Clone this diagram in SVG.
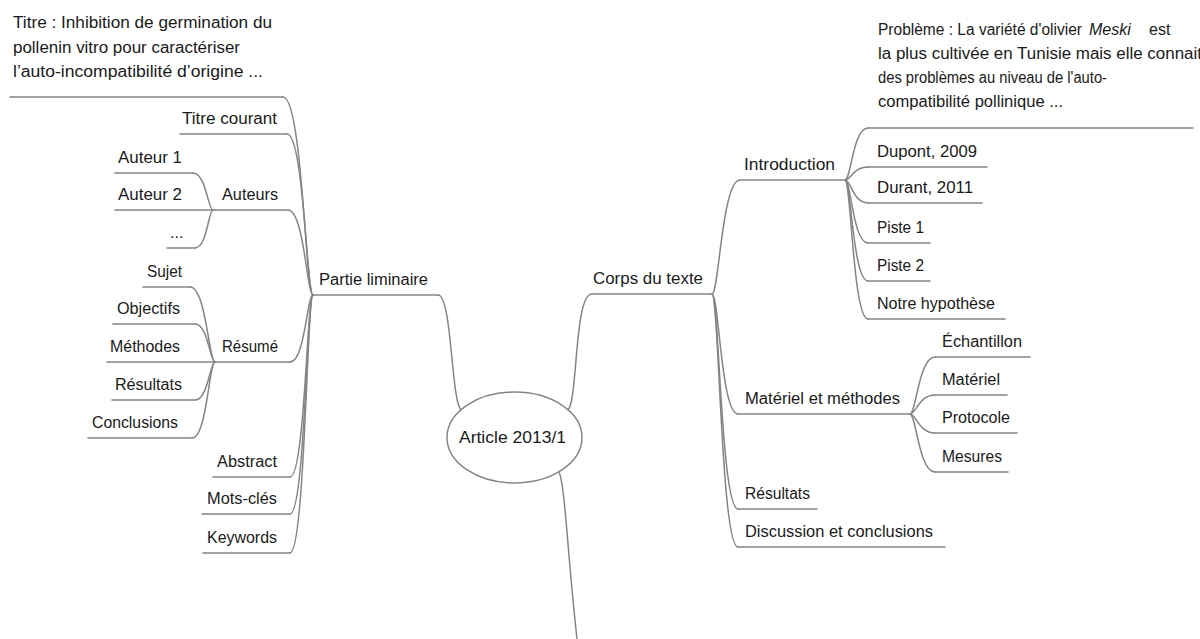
<svg xmlns="http://www.w3.org/2000/svg" width="1200" height="639" viewBox="0 0 1200 639">
<style>
.t{font-family:"Liberation Sans",Arial,sans-serif;font-size:16px;fill:#1a1a1a}
.u{stroke:#858585;stroke-width:1.6;fill:none;stroke-linecap:round}
.c{stroke:#858585;stroke-width:1.5;fill:none;stroke-linecap:round}
</style>
<rect width="1200" height="639" fill="#fff"/>
<g id="connectors">
<path class="c" d="M283 97 C302.5 97 305.5 295 313 295"/>
<path class="c" d="M287 134 C304 134 306.5 295 313 295"/>
<path class="c" d="M288 210 C304 210 307 295 313 295"/>
<path class="c" d="M290 362 C305 362 307 295 313 295"/>
<path class="c" d="M290 477 C305 477 307 295 313 295"/>
<path class="c" d="M290 514 C305 514 307 295 313 295"/>
<path class="c" d="M290 553 C305 553 307 295 313 295"/>
<path class="c" d="M193 173 C206 173 208 210 213 210"/>
<path class="c" d="M195 248 C207 248 208.5 210 213 210"/>
<path class="c" d="M190 287 C206 287 209 362 215 362"/>
<path class="c" d="M195 324 C208 324 210 362 215 362"/>
<path class="c" d="M195 400 C208 400 210 362 215 362"/>
<path class="c" d="M192 438 C207 438 209 362 215 362"/>
<path class="c" d="M438 295 C452 295 451 400 461 410"/>
<path class="c" d="M568 410 C578 400 574 294 592 294"/>
<path class="c" d="M559 472 C565 484 568 560 577 639"/>
<path class="c" d="M712 294 C719 294 722 180 740 180"/>
<path class="c" d="M712 294 C719 294 721 414 738 414"/>
<path class="c" d="M712 294 C719 294 721 509 738 509"/>
<path class="c" d="M712 294 C719 294 721 547 738 547"/>
<path class="c" d="M845 180 C851 180 853 128 868 128"/>
<path class="c" d="M845 180 C851 180 853 167 868 167"/>
<path class="c" d="M845 180 C851 180 853 203 868 203"/>
<path class="c" d="M845 180 C851 180 853 243 868 243"/>
<path class="c" d="M845 180 C851 180 853 281 868 281"/>
<path class="c" d="M845 180 C851 180 853 319 868 319"/>
<path class="c" d="M910 414 C916 414 919 357 935 357"/>
<path class="c" d="M910 414 C916 414 919 395 935 395"/>
<path class="c" d="M910 414 C916 414 919 433 935 433"/>
<path class="c" d="M910 414 C916 414 919 472 935 472"/>
</g>
<g id="center">
<ellipse cx="514.5" cy="437.5" rx="67.5" ry="45.5" fill="#fff" stroke="#858585" stroke-width="1.5"/>
<text class="t" x="459" y="443" textLength="107" lengthAdjust="spacingAndGlyphs">Article 2013/1</text>
</g>
<g id="partie-liminaire">
<line class="u" x1="313" y1="295" x2="438" y2="295"/>
<text class="t" x="319" y="285" textLength="109" lengthAdjust="spacingAndGlyphs">Partie liminaire</text>
</g>
<g id="titre">
<line class="u" x1="10" y1="97" x2="283" y2="97"/>
<text class="t"><tspan x="13" y="28" textLength="259" lengthAdjust="spacingAndGlyphs">Titre : Inhibition de germination du</tspan><tspan x="13" y="52.5" textLength="227" lengthAdjust="spacingAndGlyphs">pollenin vitro pour caractériser</tspan><tspan x="13" y="77" textLength="250" lengthAdjust="spacingAndGlyphs">l’auto-incompatibilité d’origine ...</tspan></text>
</g>
<g id="titre-courant">
<line class="u" x1="180" y1="134" x2="287" y2="134"/>
<text class="t" x="182" y="124" textLength="95" lengthAdjust="spacingAndGlyphs">Titre courant</text>
</g>
<g id="auteurs">
<line class="u" x1="213" y1="210" x2="288" y2="210"/>
<text class="t" x="222" y="200" textLength="56" lengthAdjust="spacingAndGlyphs">Auteurs</text>
</g>
<g id="auteur-1">
<line class="u" x1="115" y1="173" x2="193" y2="173"/>
<text class="t" x="118" y="163" textLength="64" lengthAdjust="spacingAndGlyphs">Auteur 1</text>
</g>
<g id="auteur-2">
<line class="u" x1="115" y1="210" x2="213" y2="210"/>
<text class="t" x="118" y="200" textLength="64" lengthAdjust="spacingAndGlyphs">Auteur 2</text>
</g>
<g id="auteur-etc">
<line class="u" x1="167" y1="248" x2="195" y2="248"/>
<text class="t" x="170" y="238">...</text>
</g>
<g id="resume">
<line class="u" x1="215" y1="362" x2="290" y2="362"/>
<text class="t" x="222" y="352" textLength="56" lengthAdjust="spacingAndGlyphs">Résumé</text>
</g>
<g id="sujet">
<line class="u" x1="143" y1="287" x2="190" y2="287"/>
<text class="t" x="147" y="277" textLength="35" lengthAdjust="spacingAndGlyphs">Sujet</text>
</g>
<g id="objectifs">
<line class="u" x1="113" y1="324" x2="195" y2="324"/>
<text class="t" x="117" y="314" textLength="63" lengthAdjust="spacingAndGlyphs">Objectifs</text>
</g>
<g id="methodes">
<line class="u" x1="107" y1="362" x2="215" y2="362"/>
<text class="t" x="110" y="352" textLength="70" lengthAdjust="spacingAndGlyphs">Méthodes</text>
</g>
<g id="resultats-resume">
<line class="u" x1="112" y1="400" x2="195" y2="400"/>
<text class="t" x="115" y="390" textLength="67" lengthAdjust="spacingAndGlyphs">Résultats</text>
</g>
<g id="conclusions">
<line class="u" x1="88" y1="438" x2="192" y2="438"/>
<text class="t" x="92" y="428" textLength="86" lengthAdjust="spacingAndGlyphs">Conclusions</text>
</g>
<g id="abstract">
<line class="u" x1="213" y1="477" x2="290" y2="477"/>
<text class="t" x="217" y="467" textLength="60" lengthAdjust="spacingAndGlyphs">Abstract</text>
</g>
<g id="mots-cles">
<line class="u" x1="202" y1="514" x2="290" y2="514"/>
<text class="t" x="207" y="504" textLength="70" lengthAdjust="spacingAndGlyphs">Mots-clés</text>
</g>
<g id="keywords">
<line class="u" x1="203" y1="553" x2="290" y2="553"/>
<text class="t" x="207" y="543" textLength="70" lengthAdjust="spacingAndGlyphs">Keywords</text>
</g>
<g id="corps">
<line class="u" x1="592" y1="294" x2="712" y2="294"/>
<text class="t" x="593" y="284" textLength="110" lengthAdjust="spacingAndGlyphs">Corps du texte</text>
</g>
<g id="introduction">
<line class="u" x1="740" y1="180" x2="845" y2="180"/>
<text class="t" x="744" y="170" textLength="91" lengthAdjust="spacingAndGlyphs">Introduction</text>
</g>
<g id="probleme">
<line class="u" x1="868" y1="128" x2="1193" y2="128"/>
<text class="t" y="35"><tspan x="878" textLength="204" lengthAdjust="spacingAndGlyphs">Problème : La variété d'olivier</tspan> <tspan x="1089" font-style="italic">Meski</tspan> <tspan x="1149">est</tspan></text>
<text class="t"><tspan x="878" y="59" textLength="324" lengthAdjust="spacingAndGlyphs">la plus cultivée en Tunisie mais elle connait</tspan><tspan x="878" y="83" textLength="229" lengthAdjust="spacingAndGlyphs">des problèmes au niveau de l'auto-</tspan><tspan x="878" y="107" textLength="185" lengthAdjust="spacingAndGlyphs">compatibilité pollinique ...</tspan></text>
</g>
<g id="dupont">
<line class="u" x1="868" y1="167" x2="987" y2="167"/>
<text class="t" x="877" y="157" textLength="100" lengthAdjust="spacingAndGlyphs">Dupont, 2009</text>
</g>
<g id="durant">
<line class="u" x1="868" y1="203" x2="982" y2="203"/>
<text class="t" x="877" y="193" textLength="96" lengthAdjust="spacingAndGlyphs">Durant, 2011</text>
</g>
<g id="piste-1">
<line class="u" x1="868" y1="243" x2="930" y2="243"/>
<text class="t" x="877" y="233" textLength="47" lengthAdjust="spacingAndGlyphs">Piste 1</text>
</g>
<g id="piste-2">
<line class="u" x1="868" y1="281" x2="930" y2="281"/>
<text class="t" x="877" y="271" textLength="47" lengthAdjust="spacingAndGlyphs">Piste 2</text>
</g>
<g id="hypothese">
<line class="u" x1="868" y1="319" x2="1005" y2="319"/>
<text class="t" x="877" y="309" textLength="118" lengthAdjust="spacingAndGlyphs">Notre hypothèse</text>
</g>
<g id="materiel-methodes">
<line class="u" x1="738" y1="414" x2="910" y2="414"/>
<text class="t" x="745" y="404" textLength="155" lengthAdjust="spacingAndGlyphs">Matériel et méthodes</text>
</g>
<g id="echantillon">
<line class="u" x1="935" y1="357" x2="1030" y2="357"/>
<text class="t" x="942" y="347" textLength="80" lengthAdjust="spacingAndGlyphs">Échantillon</text>
</g>
<g id="materiel">
<line class="u" x1="935" y1="395" x2="1007" y2="395"/>
<text class="t" x="942" y="385" textLength="58" lengthAdjust="spacingAndGlyphs">Matériel</text>
</g>
<g id="protocole">
<line class="u" x1="935" y1="433" x2="1017" y2="433"/>
<text class="t" x="942" y="423" textLength="68" lengthAdjust="spacingAndGlyphs">Protocole</text>
</g>
<g id="mesures">
<line class="u" x1="935" y1="472" x2="1008" y2="472"/>
<text class="t" x="942" y="462" textLength="60" lengthAdjust="spacingAndGlyphs">Mesures</text>
</g>
<g id="resultats">
<line class="u" x1="738" y1="509" x2="817" y2="509"/>
<text class="t" x="745" y="499" textLength="65" lengthAdjust="spacingAndGlyphs">Résultats</text>
</g>
<g id="discussion">
<line class="u" x1="738" y1="547" x2="945" y2="547"/>
<text class="t" x="745" y="537" textLength="188" lengthAdjust="spacingAndGlyphs">Discussion et conclusions</text>
</g>
</svg>
